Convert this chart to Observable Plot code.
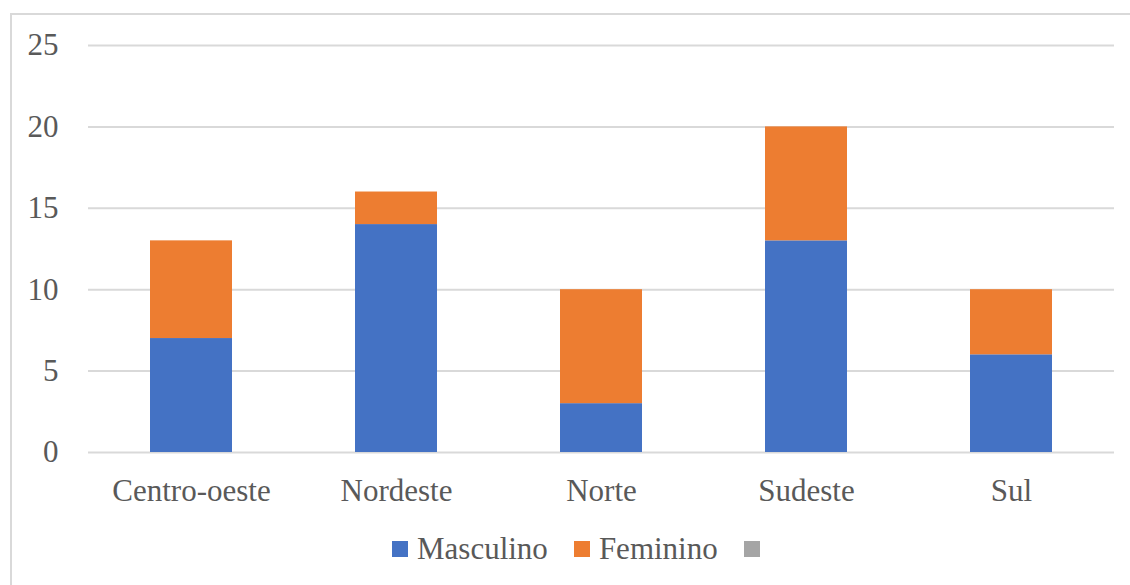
<!DOCTYPE html>
<html>
<head>
<meta charset="utf-8">
<script src="https://cdn.jsdelivr.net/npm/d3@7"></script>
<script src="https://cdn.jsdelivr.net/npm/@observablehq/plot@0.6"></script>
<style>
  html, body { margin: 0; padding: 0; background: #fff; overflow: hidden; }
  #wrap { position: relative; width: 1130px; height: 585px; overflow: hidden; }
  #frame { position: absolute; left: 10px; top: 13px; width: 1300px; height: 800px; border: 2px solid #d9d9d9; box-sizing: border-box; }
  #chart { position: absolute; left: 0; top: 0; }
  #legend { position: absolute; left: 392px; top: 531px; display: flex; align-items: center; font-size: 31px; color: #595959; white-space: nowrap; }
  .lg-sw { width: 16px; height: 16px; margin-right: 9px; }
  .lg-entry { display: flex; align-items: center; margin-right: 26px; }
</style>
</head>
<body>
<div id="wrap">
  <div id="frame"></div>
  <div id="chart"></div>
  <div id="legend" style="font-family:'Liberation Serif'"></div>
</div>
<script>
const regions = ["Centro-oeste", "Nordeste", "Norte", "Sudeste", "Sul"];
const masculino = [7, 14, 3, 13, 6];
const feminino = [6, 2, 7, 7, 4];
const series = ["Masculino", "Feminino", ""];
const colors = ["#4472C4", "#ED7D31", "#A5A5A5"];
const yTicks = [0, 5, 10, 15, 20, 25];

const FONT = "'Liberation Serif', serif";

const data = [];
regions.forEach((r, i) => {
  data.push({region: r, sex: "Masculino", value: masculino[i]});
  data.push({region: r, sex: "Feminino", value: feminino[i]});
});

const chart = Plot.plot({
  width: 1130,
  height: 515,
  marginLeft: 88,
  marginRight: 16,
  marginTop: 45,
  marginBottom: 63,
  style: { color: "#595959", background: "transparent" },
  x: { domain: regions, paddingInner: 0.6, paddingOuter: 0.3, label: null },
  y: { domain: [0, 25], label: null },
  color: { domain: series.slice(0, 2), range: colors.slice(0, 2) },
  marks: [
    Plot.ruleY(yTicks, { stroke: "#d9d9d9", strokeWidth: 2 }),
    Plot.barY(data, { x: "region", y: "value", fill: "sex" }),
    Plot.axisY({ ticks: yTicks, tickSize: 0, tickPadding: 30, fontSize: 31, label: null, fill: "#595959" }),
    Plot.axisX({ tickSize: 0, tickPadding: 26, fontSize: 31, label: null, fill: "#595959" })
  ]
});
chart.style.setProperty("font-family", FONT, "important");
chart.querySelectorAll("g, text, tspan").forEach(t => {
  t.setAttribute("font-family", "Liberation Serif");
  t.style.setProperty("font-family", FONT, "important");
});
document.getElementById("chart").appendChild(chart);

const legend = document.getElementById("legend");
legend.style.setProperty("font-family", FONT, "important");
series.forEach((s, i) => {
  const entry = document.createElement("div");
  entry.className = "lg-entry";
  entry.style.setProperty("font-family", FONT, "important");
  const sw = document.createElement("div");
  sw.className = "lg-sw";
  sw.style.background = colors[i];
  entry.appendChild(sw);
  if (s) {
    const lab = document.createElement("div");
    lab.textContent = s;
    lab.style.setProperty("font-family", FONT, "important");
    entry.appendChild(lab);
  }
  legend.appendChild(entry);
});
</script>
</body>
</html>
